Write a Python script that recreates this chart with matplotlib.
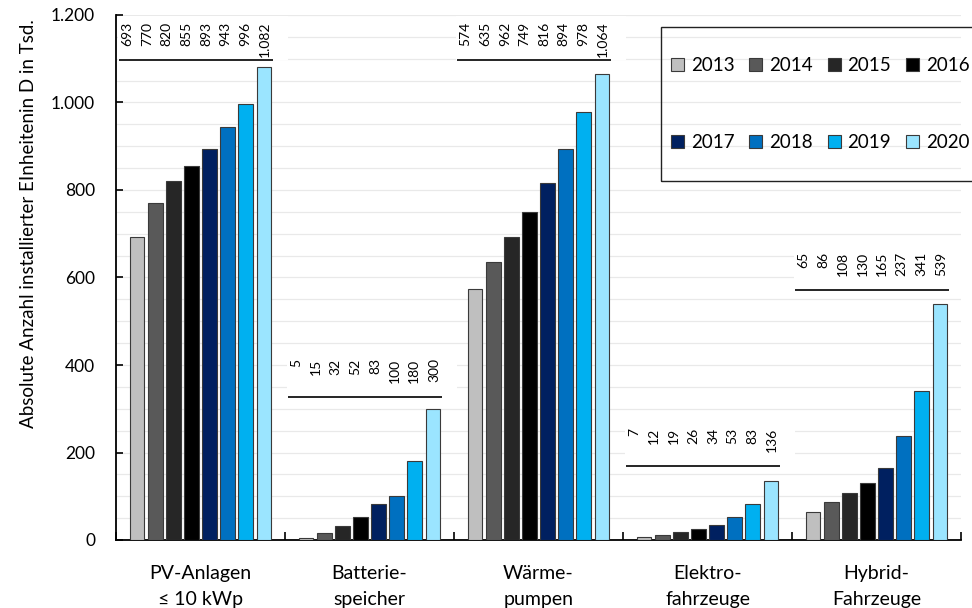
import matplotlib
matplotlib.use("Agg")
import matplotlib.pyplot as plt
from matplotlib.patches import Rectangle
from matplotlib.ticker import FuncFormatter, MultipleLocator, FixedLocator
import numpy as np

plt.rcParams['font.family'] = ['Lato', 'DejaVu Sans']

# data (Tsd. Einheiten)
categories = ["PV-Anlagen\n≤ 10 kWp", "Batterie-\nspeicher", "Wärme-\npumpen",
              "Elektro-\nfahrzeuge", "Hybrid-\nFahrzeuge"]
years = ["2013", "2014", "2015", "2016", "2017", "2018", "2019", "2020"]
pv = [693, 770, 820, 855, 893, 943, 996, 1082]
batterie = [5, 15, 32, 52, 83, 100, 180, 300]
waerme = [574, 635, 693, 749, 816, 894, 978, 1064]
elektro = [7, 12, 19, 26, 34, 53, 83, 136]
hybrid = [65, 86, 108, 130, 165, 237, 341, 539]
series = [pv, batterie, waerme, elektro, hybrid]

# labels as printed in the original (Wärmepumpen 2015 reads "962")
labels = [
    ["693", "770", "820", "855", "893", "943", "996", "1.082"],
    ["5", "15", "32", "52", "83", "100", "180", "300"],
    ["574", "635", "962", "749", "816", "894", "978", "1.064"],
    ["7", "12", "19", "26", "34", "53", "83", "136"],
    ["65", "86", "108", "130", "165", "237", "341", "539"],
]
# height of the separator line above each group
line_levels = [1097, 327, 1097, 169, 571]

colors = ["#BFBFBF", "#595959", "#262626", "#000000",
          "#002060", "#0070C0", "#00B0F0", "#9BE5FF"]

W, H = 972, 608
fig = plt.figure(figsize=(W / 100, H / 100), dpi=100)
ax = fig.add_axes([116 / W, 1 - 540 / H, (961 - 116) / W, (540 - 15) / H])

x = np.arange(len(categories))
slot = 0.107
width = 0.086
bars = []
for i, yr in enumerate(years):
    vals = [s[i] for s in series]
    bars.append(ax.bar(x + (i - 3.5) * slot, vals, width, color=colors[i],
                       edgecolor="#3a3a3a", linewidth=0.8, label=yr, zorder=3))

# value labels above each group
lab_slot = 0.116
for g in range(len(categories)):
    lvl = line_levels[g]
    ax.fill_between([x[g] - 0.49, x[g] + 0.52], lvl, lvl + 100,
                    color="white", zorder=1.5, linewidth=0)
    ax.hlines(lvl, x[g] - 0.48, x[g] + 0.43, color="black", linewidth=1.2, zorder=3)
    for i, t in enumerate(labels[g]):
        ax.text(x[g] - 0.025 + (i - 3.5) * lab_slot, lvl + 88, t, rotation=90,
                ha="center", va="top", fontsize=10, zorder=4)

ax.set_xlim(-0.5, 4.5)
ax.set_ylim(0, 1200)
ax.set_axisbelow(True)

ax.yaxis.set_major_locator(MultipleLocator(200))
ax.yaxis.set_minor_locator(MultipleLocator(50))
ax.yaxis.set_major_formatter(FuncFormatter(lambda v, p: f"{v:,.0f}".replace(",", ".")))
ax.grid(axis="y", which="both", color="#E9E9E9", linewidth=0.9, zorder=0)
ax.tick_params(axis="y", which="major", direction="in", length=5, width=1.2,
               labelsize=12.5, pad=15)
ax.tick_params(axis="y", which="minor", length=0)

ax.xaxis.set_major_locator(FixedLocator(np.arange(-0.5, 5.0, 1.0)))
ax.xaxis.set_major_formatter(FuncFormatter(lambda v, p: ""))
ax.xaxis.set_minor_locator(FixedLocator(x))
ax.set_xticklabels(categories, minor=True)
ax.tick_params(axis="x", which="major", direction="in", length=6, width=1.2)
ax.tick_params(axis="x", which="minor", length=0, labelsize=14, pad=18)
for t in ax.xaxis.get_minorticklabels():
    t.set_linespacing(1.65)

for s in ["top", "right"]:
    ax.spines[s].set_visible(False)
for s in ["left", "bottom"]:
    ax.spines[s].set_linewidth(1.3)

fig.text(29 / W, 1 - 224 / H, "Absolute Anzahl installierter EInheitenin D in Tsd.",
         rotation=90, ha="center", va="center", fontsize=13.5)

# legend: row-wise order, frame drawn separately
order = [0, 4, 1, 5, 2, 6, 3, 7]
leg = fig.legend([bars[k] for k in order], [years[k] for k in order], ncol=4,
                 loc="upper left", bbox_to_anchor=(671 / W, 1 - 57 / H),
                 fontsize=13.5, frameon=False,
                 handlelength=0.7, handleheight=0.7, handletextpad=0.35,
                 columnspacing=0.8, labelspacing=3.2, borderpad=0, borderaxespad=0)
fig.add_artist(Rectangle((661 / W, 1 - 181 / H), (990 - 661) / W, (181 - 27) / H,
                         transform=fig.transFigure, facecolor="none",
                         edgecolor="#222222", linewidth=1.0, zorder=5))

fig.savefig("out.png", dpi=100)
